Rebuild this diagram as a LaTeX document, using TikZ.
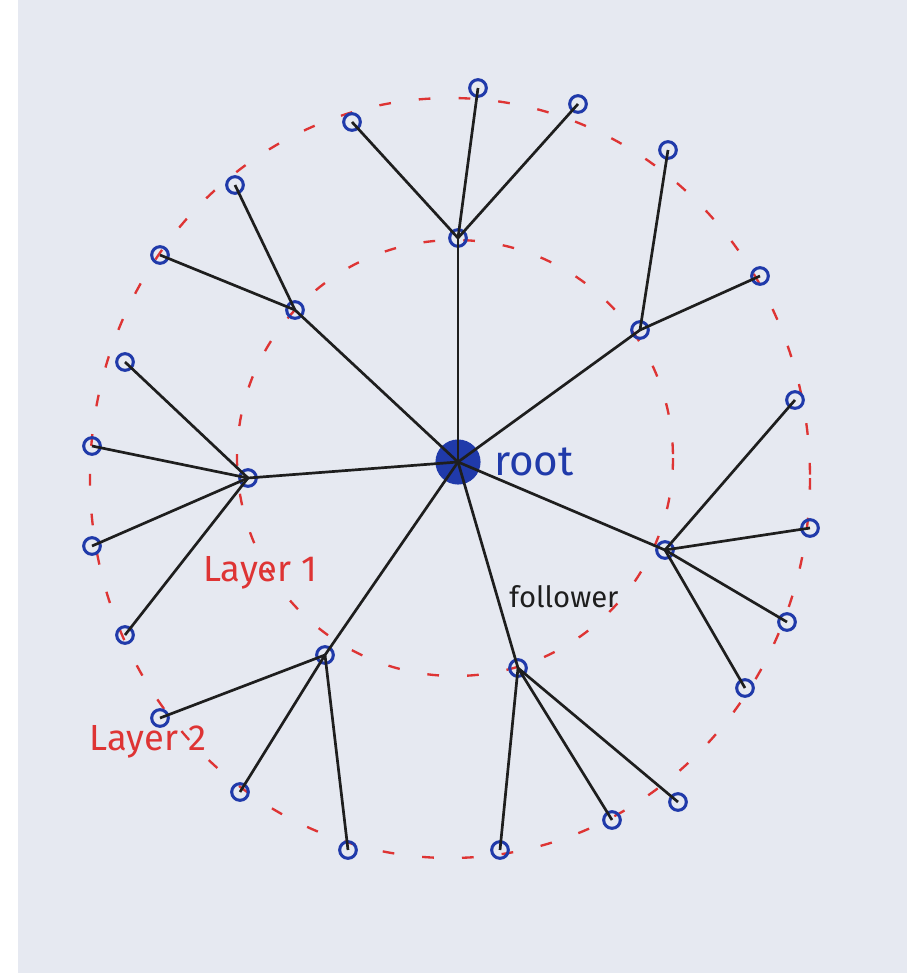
\documentclass[tikz,border=0pt]{standalone}
\usepackage{fontspec}
\setmainfont{Fira Sans}
\usetikzlibrary{positioning}

\definecolor{paper}{RGB}{230,233,241}
\definecolor{pen}{RGB}{32,58,170}
\definecolor{redpen}{RGB}{222,52,52}
\definecolor{ink}{RGB}{30,30,30}

\begin{document}
\begin{tikzpicture}[
  x=0.03cm, y=-0.03cm,
  member/.style={circle, draw=pen, line width=2.6pt, minimum size=0.5cm, inner sep=0pt},
  rootnode/.style={circle, draw=pen, fill=pen, line width=1.5pt, minimum size=1.3cm, inner sep=0pt},
  link/.style={draw=ink, line width=2.3pt},
  layer/.style={draw=redpen, line width=2pt, dash pattern=on 10pt off 24pt},
  tag/.style={inner sep=0pt}
  ]

% Paper
\fill[white] (0,0) rectangle (907,973);
\fill[paper] (18,0) rectangle (907,973);
\useasboundingbox (0,0) rectangle (907,973);

% Layers
\draw[layer] (455,458) circle [radius=218];
\draw[layer] (450,478) ellipse [x radius=360, y radius=380];

% Nodes
\node[rootnode] (root) at (458,462) {};

\node[member] (a) at (458,238) {};
\node[member] (b) at (640,330) {};
\node[member] (c) at (665,550) {};
\node[member] (d) at (518,668) {};
\node[member] (e) at (325,655) {};
\node[member] (f) at (248,478) {};
\node[member] (g) at (295,310) {};

\node[member] (a1) at (352,122) {};
\node[member] (a2) at (478,88) {};
\node[member] (a3) at (578,104) {};
\node[member] (b1) at (668,150) {};
\node[member] (b2) at (760,276) {};
\node[member] (c1) at (795,400) {};
\node[member] (c2) at (810,528) {};
\node[member] (c3) at (787,622) {};
\node[member] (c4) at (745,688) {};
\node[member] (d1) at (500,850) {};
\node[member] (d2) at (612,820) {};
\node[member] (d3) at (678,802) {};
\node[member] (e1) at (160,718) {};
\node[member] (e2) at (240,792) {};
\node[member] (e3) at (348,850) {};
\node[member] (f1) at (125,362) {};
\node[member] (f2) at (92,446) {};
\node[member] (f3) at (92,546) {};
\node[member] (f4) at (125,635) {};
\node[member] (g1) at (235,185) {};
\node[member] (g2) at (160,255) {};

% Labels
\node[tag, text=pen, font=\fontsize{36}{36}\selectfont, right=4mm of root] (rootlabel) {root};
\node[tag, text=ink, font=\fontsize{25}{25}\selectfont] (followerlabel) at (564,597) {follower};
\node[tag, text=redpen, font=\fontsize{31}{31}\selectfont] (layer1) at (260,573) {Layer 1};
\node[tag, text=redpen, font=\fontsize{31}{31}\selectfont] (layer2) at (148,742) {Layer 2};

% Links
\foreach \n in {a,b,c,d,e,f,g}
  \draw[link] (root.center) -- (\n.center);
\foreach \p/\n in {a/a1,a/a2,a/a3,b/b1,b/b2,c/c1,c/c2,c/c3,c/c4,d/d1,d/d2,d/d3,e/e1,e/e2,e/e3,f/f1,f/f2,f/f3,f/f4,g/g1,g/g2}
  \draw[link] (\p.center) -- (\n.center);

\end{tikzpicture}
\end{document}
